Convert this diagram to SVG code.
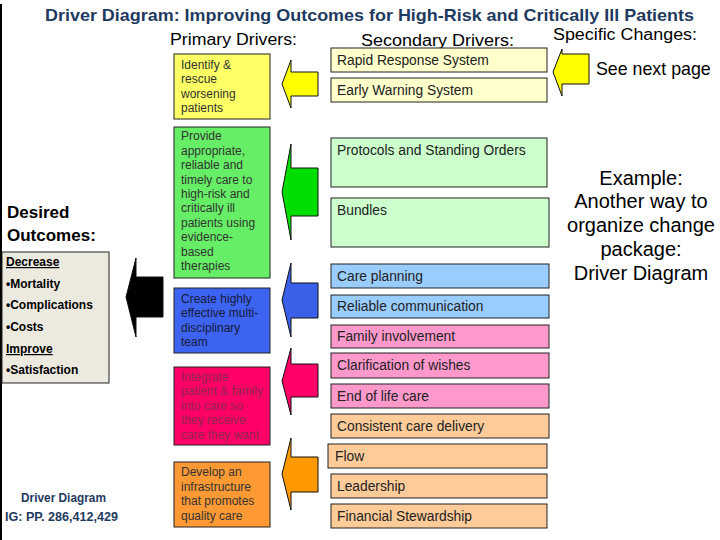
<svg xmlns="http://www.w3.org/2000/svg" width="720" height="540" viewBox="0 0 720 540">
<style>
.hdr{font-family:"Liberation Sans",Arial,sans-serif;font-size:16px;fill:#000}
.title{font-family:"Liberation Sans",Arial,sans-serif;font-size:17px;font-weight:bold;fill:#1F3A60}
.pbox{stroke:#222;stroke-width:1}
.ptxt{font-family:"Liberation Sans",Arial,sans-serif;font-size:12px;fill:#333}
.sbox{stroke:#222;stroke-width:1}
.stxt{font-family:"Liberation Sans",Arial,sans-serif;font-size:13.8px;fill:#222}
.arr{stroke:#111;stroke-width:1;stroke-linejoin:miter}
.otxt{font-family:"Liberation Sans",Arial,sans-serif;font-size:12px;font-weight:bold;fill:#000}
.big{font-family:"Liberation Sans",Arial,sans-serif;font-size:20px;fill:#000;text-anchor:middle}
.note{font-family:"Liberation Sans",Arial,sans-serif;font-size:12px;font-weight:bold;fill:#1F3A60}
</style>
<rect x="0" y="0" width="720" height="540" fill="#fff"/>
<line x1="1" y1="4" x2="1" y2="540" stroke="#000" stroke-width="2"/>

<g id="titles">
<text class="title" x="45" y="21" textLength="649" lengthAdjust="spacingAndGlyphs">Driver Diagram: Improving Outcomes for High-Risk and Critically Ill Patients</text>
<text class="hdr" x="170" y="45" textLength="127" lengthAdjust="spacingAndGlyphs">Primary Drivers:</text>
<text class="hdr" x="361" y="46" textLength="153" lengthAdjust="spacingAndGlyphs">Secondary Drivers:</text>
<text class="hdr" x="553" y="40" textLength="144" lengthAdjust="spacingAndGlyphs">Specific Changes:</text>
</g>

<g id="outcomes">
<text x="7" y="218" font-family="Liberation Sans, Arial, sans-serif" font-size="17" font-weight="bold">Desired</text>
<text x="7" y="241" font-family="Liberation Sans, Arial, sans-serif" font-size="17" font-weight="bold">Outcomes:</text>
<rect x="2" y="252" width="107" height="131" fill="#ECE9DF" stroke="#222" stroke-width="1"/>
<text class="otxt" x="6" y="266" text-decoration="underline">Decrease</text>
<text class="otxt" x="6" y="288">•Mortality</text>
<text class="otxt" x="6" y="309">•Complications</text>
<text class="otxt" x="6" y="331">•Costs</text>
<text class="otxt" x="6" y="353" text-decoration="underline">Improve</text>
<text class="otxt" x="6" y="374">•Satisfaction</text>
</g>

<g id="connectors">
<polygon class="arr" fill="#000" points="163,277 136,277 136,258 126,297 136,337 136,317 163,317"/>
<polygon class="arr" fill="#FFFF00" points="318,72 291,72 291,60 282,84 291,108 291,96 318,96"/>
<polygon class="arr" fill="#00DD00" points="318,168 291,168 291,144 282,192 291,240 291,216 318,216"/>
<polygon class="arr" fill="#3A5FE8" points="318,283 291,283 291,263 282,300 291,337 291,318 318,318"/>
<polygon class="arr" fill="#FF0066" points="318,364 291,364 291,348 282,381 291,415 291,397 318,397"/>
<polygon class="arr" fill="#FF9900" points="318,457 291,457 291,438 282,474 291,510 291,492 318,492"/>
<polygon class="arr" fill="#FFFF00" points="589,54 562,54 562,49 553,72 562,96 562,84 589,84"/>
</g>

<g id="p-identify">
<rect class="pbox" x="174" y="54" width="96" height="65" fill="#FFFF66"/>
<text class="ptxt" x="181" y="69">Identify &amp;</text>
<text class="ptxt" x="181" y="83">rescue</text>
<text class="ptxt" x="181" y="98">worsening</text>
<text class="ptxt" x="181" y="112">patients</text>
</g>
<g id="p-provide">
<rect class="pbox" x="174" y="127" width="96" height="151" fill="#66EE66"/>
<text class="ptxt" x="181" y="140">Provide</text>
<text class="ptxt" x="181" y="155">appropriate,</text>
<text class="ptxt" x="181" y="169">reliable and</text>
<text class="ptxt" x="181" y="184">timely care to</text>
<text class="ptxt" x="181" y="198">high-risk and</text>
<text class="ptxt" x="181" y="212">critically ill</text>
<text class="ptxt" x="181" y="227">patients using</text>
<text class="ptxt" x="181" y="241">evidence-</text>
<text class="ptxt" x="181" y="256">based</text>
<text class="ptxt" x="181" y="270">therapies</text>
</g>
<g id="p-team">
<rect class="pbox" x="174" y="288" width="96" height="65" fill="#3C64F0"/>
<text class="ptxt" x="181" y="303" style="fill:#1a1a3a">Create highly</text>
<text class="ptxt" x="181" y="317" style="fill:#1a1a3a">effective multi-</text>
<text class="ptxt" x="181" y="332" style="fill:#1a1a3a">disciplinary</text>
<text class="ptxt" x="181" y="346" style="fill:#1a1a3a">team</text>
</g>
<g id="p-family">
<rect class="pbox" x="174" y="367" width="96" height="78" fill="#FF0066"/>
<text class="ptxt" x="181" y="381" style="fill:#8E2650">Integrate</text>
<text class="ptxt" x="181" y="395" style="fill:#8E2650">patient &amp; family</text>
<text class="ptxt" x="181" y="410" style="fill:#8E2650">into care so</text>
<text class="ptxt" x="181" y="424" style="fill:#8E2650">they receive</text>
<text class="ptxt" x="181" y="439" style="fill:#8E2650">care they want</text>
</g>
<g id="p-infra">
<rect class="pbox" x="174" y="462" width="96" height="65" fill="#FF9933"/>
<text class="ptxt" x="181" y="476">Develop an</text>
<text class="ptxt" x="181" y="491">infrastructure</text>
<text class="ptxt" x="181" y="505">that promotes</text>
<text class="ptxt" x="181" y="520">quality care</text>
</g>

<g id="s-rapid"><rect class="sbox" x="331" y="48" width="216" height="24" fill="#FFFFCC"/><text class="stxt" x="337" y="65">Rapid Response System</text></g>
<g id="s-early"><rect class="sbox" x="331" y="78" width="216" height="24" fill="#FFFFCC"/><text class="stxt" x="337" y="95">Early Warning System</text></g>
<g id="s-protocols"><rect class="sbox" x="331" y="138" width="216" height="49" fill="#CCFFCC"/><text class="stxt" x="337" y="155">Protocols and Standing Orders</text></g>
<g id="s-bundles"><rect class="sbox" x="331" y="198" width="218" height="49" fill="#CCFFCC"/><text class="stxt" x="337" y="215">Bundles</text></g>
<g id="s-care"><rect class="sbox" x="331" y="264" width="218" height="24" fill="#99CCFF"/><text class="stxt" x="337" y="281">Care planning</text></g>
<g id="s-reliable"><rect class="sbox" x="331" y="295" width="218" height="23" fill="#99CCFF"/><text class="stxt" x="337" y="311">Reliable communication</text></g>
<g id="s-familyinv"><rect class="sbox" x="331" y="325" width="218" height="23" fill="#FF99CC"/><text class="stxt" x="337" y="341">Family involvement</text></g>
<g id="s-wishes"><rect class="sbox" x="331" y="353" width="218" height="25" fill="#FF99CC"/><text class="stxt" x="337" y="370">Clarification of wishes</text></g>
<g id="s-endlife"><rect class="sbox" x="331" y="384" width="218" height="24" fill="#FF99CC"/><text class="stxt" x="337" y="401">End of life care</text></g>
<g id="s-consistent"><rect class="sbox" x="331" y="414" width="218" height="24" fill="#FFCC99"/><text class="stxt" x="337" y="431">Consistent care delivery</text></g>
<g id="s-flow"><rect class="sbox" x="328" y="444" width="219" height="24" fill="#FFCC99"/><text class="stxt" x="335" y="461">Flow</text></g>
<g id="s-leadership"><rect class="sbox" x="331" y="474" width="216" height="24" fill="#FFCC99"/><text class="stxt" x="337" y="491">Leadership</text></g>
<g id="s-financial"><rect class="sbox" x="331" y="504" width="216" height="24" fill="#FFCC99"/><text class="stxt" x="337" y="521">Financial Stewardship</text></g>

<g id="changes">
<text x="596" y="75" font-family="Liberation Sans, Arial, sans-serif" font-size="17.8" fill="#000">See next page</text>
<text class="big" x="641" y="185">Example:</text>
<text class="big" x="641" y="208">Another way to</text>
<text class="big" x="641" y="232">organize change</text>
<text class="big" x="641" y="256">package:</text>
<text class="big" x="641" y="280">Driver Diagram</text>
</g>

<g id="reference">
<text class="note" x="21" y="502" textLength="85" lengthAdjust="spacingAndGlyphs">Driver Diagram</text>
<text class="note" x="5" y="521" textLength="113" lengthAdjust="spacingAndGlyphs">IG: PP. 286,412,429</text>
</g>
</svg>
